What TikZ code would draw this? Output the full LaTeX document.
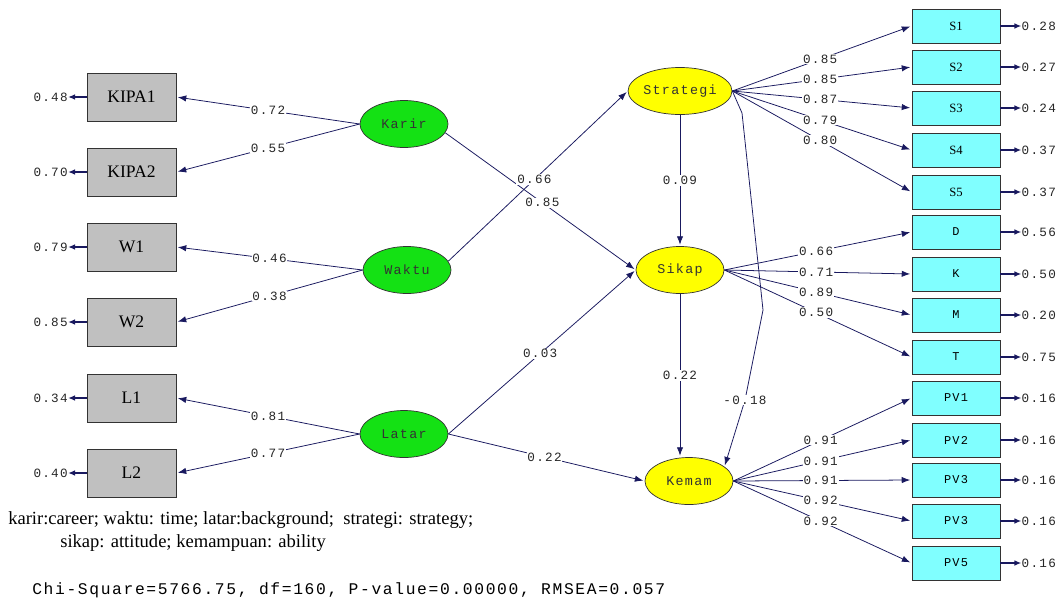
\documentclass[tikz,border=0pt]{standalone}
\usepackage{fontspec}
\setmainfont{Liberation Serif}
\newfontfamily\mono[LetterSpace=10]{Liberation Mono}
\usetikzlibrary{shapes.geometric,arrows.meta}
\definecolor{navy}{RGB}{25,25,95}
\definecolor{boxgray}{RGB}{192,192,192}
\definecolor{boxcyan}{RGB}{128,255,255}
\definecolor{latgreen}{RGB}{20,225,20}
\definecolor{latyellow}{RGB}{255,255,0}
\tikzset{
  obsL/.style={rectangle, draw=black!80, line width=0.6pt, fill=boxgray, minimum width=2.225cm, minimum height=1.2cm, inner sep=0pt, font=\fontsize{12.5}{14}\selectfont},
  obsR/.style={rectangle, draw=black!80, line width=0.6pt, fill=boxcyan, minimum width=2.2cm, minimum height=0.85cm, inner sep=0pt, font=\mono\fontsize{8.5}{10}\selectfont},
  obsRs/.style={obsR, font=\fontsize{9}{10}\selectfont},
  latG/.style={ellipse, draw=black!80, line width=0.5pt, fill=latgreen, minimum width=2.2cm, minimum height=1.175cm, inner sep=0pt, font=\mono\fontsize{9.5}{11}\selectfont, text=black!80},
  latY/.style={latG, fill=latyellow},
  pth/.style={draw=navy, line width=0.55pt, -{Latex[length=6pt,width=4.5pt]}, shorten >=1pt},
  errarr/.style={draw=navy, line width=1pt, -{Latex[length=5pt,width=4pt]}},
  lbl/.style={fill=white, inner sep=0.6pt, font=\mono\fontsize{9}{10}\selectfont, text=black!85},
  errlbl/.style={inner sep=0pt, font=\mono\fontsize{9}{10}\selectfont, text=black!85}
}
\begin{document}
\begin{tikzpicture}[x=0.025cm, y=-0.025cm]
\useasboundingbox (0,0) rectangle (1064,612);
% left observed
\node[obsL] (KIPA1) at (131.5,97) {KIPA1};
\node[obsL] (KIPA2) at (131.5,172) {KIPA2};
\node[obsL] (W1) at (131.5,247) {W1};
\node[obsL] (W2) at (131.5,322) {W2};
\node[obsL] (L1) at (131.5,398) {L1};
\node[obsL] (L2) at (131.5,473) {L2};
% left errors
\node[errlbl, anchor=east] (eK1) at (68,97) {0.48};
\node[errlbl, anchor=east] (eK2) at (68,172) {0.70};
\node[errlbl, anchor=east] (eW1) at (68,247) {0.79};
\node[errlbl, anchor=east] (eW2) at (68,322) {0.85};
\node[errlbl, anchor=east] (eL1) at (68,398) {0.34};
\node[errlbl, anchor=east] (eL2) at (68,473) {0.40};
\foreach \b/\e in {KIPA1/eK1,KIPA2/eK2,W1/eW1,W2/eW2,L1/eL1,L2/eL2}
  \draw[errarr] (\b.west) -- (\e.east);
% latents
\node[latG] (Karir) at (404,124) {Karir};
\node[latG] (Waktu) at (407,270) {Waktu};
\node[latG] (Latar) at (404,434) {Latar};
\node[latY] (Strategi) at (680,91) {Strategi};
\node[latY] (Sikap) at (680,270) {Sikap};
\node[latY] (Kemam) at (689,481) {Kemam};
% right observed
\node[obsRs] (S1) at (956,26) {S1};
\node[obsRs] (S2) at (956,67) {S2};
\node[obsRs] (S3) at (956,108) {S3};
\node[obsRs] (S4) at (956,150) {S4};
\node[obsRs] (S5) at (956,192) {S5};
\node[obsR] (D) at (956,232) {D};
\node[obsR] (K) at (956,274) {K};
\node[obsR] (M) at (956,315) {M};
\node[obsR] (T) at (956,357) {T};
\node[obsR] (PV1) at (956,398) {PV1};
\node[obsR] (PV2) at (956,440) {PV2};
\node[obsR] (PV3) at (956,480) {PV3};
\node[obsR] (PV4) at (956,521) {PV3};
\node[obsR] (PV5) at (956,563) {PV5};
% right errors
\foreach \b/\v in {S1/0.28,S2/0.27,S3/0.24,S4/0.37,S5/0.37,D/0.56,K/0.50,M/0.20,T/0.75,PV1/0.16,PV2/0.16,PV3/0.16,PV4/0.16,PV5/0.16}{
  \node[errlbl, anchor=west] (e\b) at ([xshift=0.525cm]\b.east) {\v};
  \draw[errarr] (\b.east) -- (e\b.west);
}
% loadings left
\draw[pth] (Karir.west) -- node[lbl] {0.72} (KIPA1.east);
\draw[pth] (Karir.west) -- node[lbl] {0.55} (KIPA2.east);
\draw[pth] (Waktu.west) -- node[lbl] {0.46} (W1.east);
\draw[pth] (Waktu.west) -- node[lbl] {0.38} (W2.east);
\draw[pth] (Latar.west) -- node[lbl] {0.81} (L1.east);
\draw[pth] (Latar.west) -- node[lbl] {0.77} (L2.east);
% structural
\draw[pth] (Karir.-12) -- node[lbl, pos=0.51] {0.85} (Sikap.west);
\draw[pth] (Waktu.12) -- node[lbl, pos=0.48] {0.66} (Strategi.west);
\draw[pth] (Latar.east) -- node[lbl, pos=0.49] {0.03} (Sikap.west);
\draw[pth] (Latar.east) -- node[lbl, pos=0.49] {0.22} (Kemam.west);
\draw[pth] (Strategi.south) -- node[lbl] {0.09} (Sikap.north);
\draw[pth] (Sikap.south) -- node[lbl] {0.22} (Kemam.north -| Sikap.south);
\draw[pth] (Strategi.east) -- (742,113) -- (763,310) -- (745,400) node[lbl] {-0.18} -- (Kemam.22);
% right loadings
\foreach \b/\v in {S1/0.85,S2/0.85,S3/0.87,S4/0.79,S5/0.80}
  \draw[pth] (Strategi.east) -- node[lbl, pos=0.49] {\v} (\b.west);
\foreach \b/\v in {D/0.66,K/0.71,M/0.89,T/0.50}
  \draw[pth] (Sikap.east) -- node[lbl, pos=0.49] {\v} (\b.west);
\foreach \b/\v in {PV1/0.91,PV2/0.91,PV3/0.91,PV4/0.92,PV5/0.92}
  \draw[pth] (Kemam.east) -- node[lbl, pos=0.49] {\v} (\b.west);
% captions
\node[anchor=west, inner sep=0pt, font=\fontsize{13.2}{15}\selectfont] (cap1) at (8,520) {karir:career; waktu: time; latar:background;\ \ strategi: strategy;};
\node[anchor=west, inner sep=0pt, font=\fontsize{13.2}{15}\selectfont] (cap2) at (60,543) {sikap: attitude; kemampuan: ability};
\node[anchor=west, inner sep=0pt, font=\mono\fontsize{11.6}{13}\selectfont] (chi) at (32,590) {Chi-Square=5766.75, df=160, P-value=0.00000, RMSEA=0.057};
\end{tikzpicture}
\end{document}
